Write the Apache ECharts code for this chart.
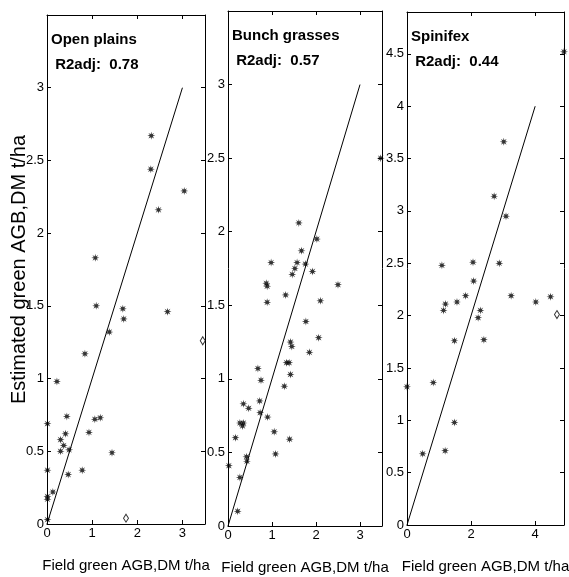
<!DOCTYPE html>
<html>
<head>
<meta charset="utf-8">
<script src="https://cdn.jsdelivr.net/npm/echarts@6/dist/echarts.min.js"></script>
<style>
  html, body { margin: 0; padding: 0; background: #fff; }
  #main { width: 569px; height: 577px; }
</style>
</head>
<body>
<div id="main"></div>
<script>
// Open plains
const openX = [2.31, 2.30, 2.47, 3.04, 1.07, 1.09, 1.68, 1.70, 2.67, 1.38, 0.84, 0.22, 0.01, 0.44, 1.06, 1.18, 0.41, 0.30, 0.37, 0.30, 0.49, 0.93, 1.44, 0.47, 0.78, 0.01, 0.13, 0.01, 0.01, 0.01];
const openY = [2.67, 2.44, 2.16, 2.29, 1.83, 1.50, 1.48, 1.41, 1.46, 1.32, 1.17, 0.98, 0.69, 0.74, 0.72, 0.73, 0.62, 0.58, 0.54, 0.50, 0.51, 0.63, 0.49, 0.34, 0.37, 0.37, 0.22, 0.19, 0.17, 0.03];
const openOutX = [1.75, 3.45];
const openOutY = [0.04, 1.26];
// Bunch grasses
const bunchX = [1.61, 2.02, 1.67, 0.98, 1.57, 1.76, 1.52, 1.46, 1.92, 0.87, 0.89, 2.50, 1.31, 0.89, 2.10, 1.77, 2.06, 1.42, 1.45, 1.85, 1.33, 1.39, 1.42, 0.68, 0.75, 1.28, 0.72, 0.35, 0.47, 0.73, 0.90, 0.27, 0.35, 0.33, 0.17, 1.05, 1.40, 1.08, 0.42, 0.43, 0.02, 0.27, 0.22, 3.47];
const bunchY = [2.06, 1.95, 1.87, 1.79, 1.79, 1.78, 1.75, 1.71, 1.73, 1.65, 1.63, 1.64, 1.57, 1.52, 1.53, 1.39, 1.28, 1.25, 1.22, 1.18, 1.11, 1.11, 1.03, 1.07, 0.99, 0.95, 0.85, 0.83, 0.80, 0.77, 0.74, 0.70, 0.70, 0.68, 0.60, 0.64, 0.59, 0.49, 0.47, 0.44, 0.41, 0.33, 0.10, 2.50];
const bunchOutX = [];
const bunchOutY = [];
// Spinifex
const spinX = [4.90, 3.02, 2.72, 3.09, 1.09, 2.06, 2.88, 2.08, 1.83, 1.56, 1.20, 1.14, 2.22, 2.29, 3.25, 4.02, 4.48, 1.48, 2.40, 0.82, 0.00, 1.48, 1.19, 0.49];
const spinY = [4.52, 3.66, 3.14, 2.95, 2.48, 2.51, 2.50, 2.33, 2.19, 2.13, 2.11, 2.05, 1.98, 2.05, 2.19, 2.13, 2.18, 1.76, 1.77, 1.36, 1.32, 0.98, 0.71, 0.68];
const spinOutX = [4.68];
const spinOutY = [2.01];

const titles = ['Open plains', 'Bunch grasses', 'Spinifex'];
const r2adj = ['0.78', '0.57', '0.44'];
const axisMax = [3.5, 3.5, 4.9];
const xInterval = [1, 1, 2];
const yInterval = [0.5, 0.5, 0.5];
const lineEnd = [3, 3, 4]; // 1:1 line end

const xName = 'Field green AGB,DM t/ha';
const yName = 'Estimated green AGB,DM t/ha';

const font = '"Liberation Sans", Arial, Helvetica, sans-serif';
const starPath = 'path://M20,10L13.7,8.47L17.07,2.93L11.53,6.3L10,0L8.47,6.3L2.93,2.93L6.3,8.47L0,10L6.3,11.53L2.93,17.07L8.47,13.7L10,20L11.53,13.7L17.07,17.07L13.7,11.53Z';

// fixed boxes, no auto shrinking for labels
const grids = [
  {left: 47, top: 15, width: 158, height: 509, outerBoundsMode: 'none', containLabel: false},
  {left: 228, top: 11, width: 154, height: 515, outerBoundsMode: 'none', containLabel: false},
  {left: 407, top: 12, width: 157, height: 513, outerBoundsMode: 'none', containLabel: false}
];

const panels = [
  {x: openX, y: openY, ox: openOutX, oy: openOutY},
  {x: bunchX, y: bunchY, ox: bunchOutX, oy: bunchOutY},
  {x: spinX, y: spinY, ox: spinOutX, oy: spinOutY}
];

function pairs(xs, ys) {
  return xs.map((v, i) => [v, ys[i]]);
}

function axis(i, pos, interval, showLabel, name) {
  const isY = (pos === 'left' || pos === 'right');
  return {
    type: 'value',
    gridIndex: i,
    position: pos,
    min: 0,
    max: axisMax[i],
    interval: interval,
    name: name || '',
    nameLocation: 'middle',
    nameGap: isY ? 18 : 34,
    nameMoveOverlap: false,
    nameTextStyle: {
      color: '#000',
      fontSize: isY ? 20 : 15,
      fontFamily: font
    },
    axisLine: {show: true, onZero: false, lineStyle: {color: '#000', width: 1}},
    axisTick: {show: true, inside: true, length: 4, lineStyle: {color: '#000', width: 1}},
    axisLabel: {
      show: showLabel,
      showMaxLabel: false,
      color: '#000',
      fontSize: 13,
      fontFamily: font,
      margin: 3
    },
    splitLine: {show: false}
  };
}

const xAxes = [];
const yAxes = [];
const series = [];
const titleList = [];

for (let i = 0; i < 3; i++) {
  xAxes.push(axis(i, 'bottom', xInterval[i], true, xName));
  xAxes.push(axis(i, 'top', xInterval[i], false));
  yAxes.push(axis(i, 'left', yInterval[i], true, i === 0 ? yName : ''));
  yAxes.push(axis(i, 'right', yInterval[i], false));

  // 1:1 reference line
  series.push({
    type: 'line',
    xAxisIndex: 2 * i,
    yAxisIndex: 2 * i,
    data: [[0, 0], [lineEnd[i], lineEnd[i]]],
    showSymbol: false,
    silent: true,
    lineStyle: {color: '#000', width: 1}
  });
  series.push({
    type: 'scatter',
    xAxisIndex: 2 * i,
    yAxisIndex: 2 * i,
    data: pairs(panels[i].x, panels[i].y),
    symbol: starPath,
    symbolSize: 8,
    clip: false,
    itemStyle: {color: '#000'}
  });
  series.push({
    type: 'scatter',
    xAxisIndex: 2 * i,
    yAxisIndex: 2 * i,
    data: pairs(panels[i].ox, panels[i].oy),
    symbol: 'diamond',
    symbolSize: [5, 8],
    clip: false,
    itemStyle: {color: '#fff', borderColor: '#000', borderWidth: 1}
  });

  titleList.push({
    text: titles[i] + '\n R2adj:  ' + r2adj[i],
    left: grids[i].left + 4,
    top: grids[i].top + 12,
    padding: 0,
    textStyle: {
      color: '#000',
      fontSize: 15,
      fontWeight: 'bold',
      fontFamily: font,
      lineHeight: 25
    }
  });
}

const chart = echarts.init(document.getElementById('main'), null, {renderer: 'canvas'});
chart.setOption({
  animation: false,
  backgroundColor: '#fff',
  title: titleList,
  grid: grids,
  xAxis: xAxes,
  yAxis: yAxes,
  series: series
});
</script>
</body>
</html>
